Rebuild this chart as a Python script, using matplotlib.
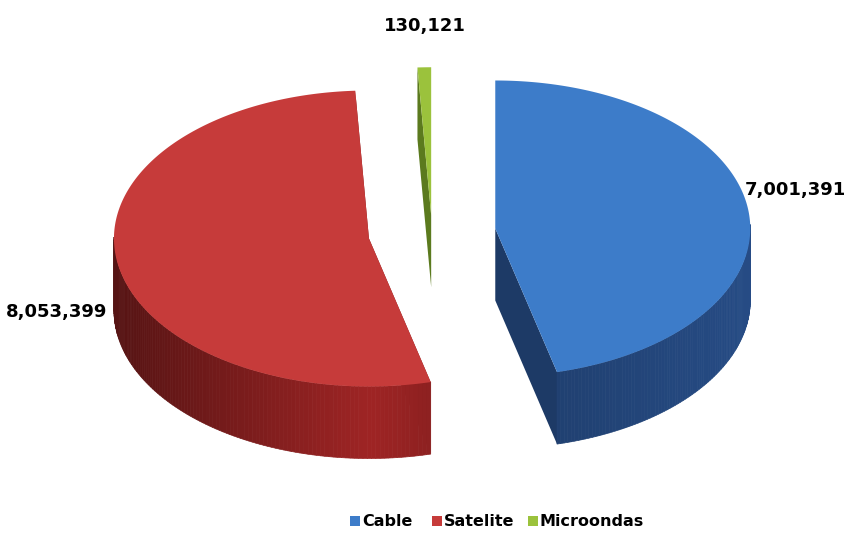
import matplotlib
matplotlib.use("Agg")
import matplotlib.pyplot as plt
from matplotlib.patches import Polygon, Rectangle
import numpy as np

labels = ["Cable", "Satelite", "Microondas"]
values = [7001391, 8053399, 130121]
value_text = ["7,001,391", "8,053,399", "130,121"]

top_col = ["#3d7cc9", "#c63b3a", "#9bc23c"]
side_col = ["#1d3a66", "#7a1c1c", "#5b7a1e"]
explode = [0.25, 0.25, 0.12]

W, H = 850, 534
fig = plt.figure(figsize=(W / 100, H / 100), dpi=100)
ax = fig.add_axes([0, 0, 1, 1])
ax.set_xlim(0, W)
ax.set_ylim(H, 0)
ax.axis("off")

cx, cy, rx, ry, depth = 432, 233, 255, 148, 72


def shade(c, f):
    c = np.array(matplotlib.colors.to_rgb(c))
    return tuple(np.clip(c * f, 0, 1))


total = sum(values)
start = 90.0
for i, v in enumerate(values):
    span = 360.0 * v / total
    a0, a1 = start - span, start
    start = a0
    m = np.radians((a0 + a1) / 2)
    ox = cx + explode[i] * rx * np.cos(m)
    oy = cy - explode[i] * ry * np.sin(m)
    th = np.radians(np.linspace(a0, a1, 200))
    px = ox + rx * np.cos(th)
    py = oy - ry * np.sin(th)
    # radial cut faces
    for k in (0, -1):
        face = [(ox, oy), (px[k], py[k]), (px[k], py[k] + depth), (ox, oy + depth)]
        ax.add_patch(Polygon(face, closed=True, fc=shade(side_col[i], 1.0), ec="none", zorder=2))
    # outer wall, front part, shaded pieces
    for j in range(len(th) - 1):
        if np.sin(th[j]) < 0.02:
            f = 0.8 + 0.5 * (np.cos(th[j]) + 1) / 2
            if i == 1:
                f = 0.7 + 0.6 * (1 - abs(np.cos(th[j])))
            q = [(px[j], py[j]), (px[j + 1], py[j + 1]),
                 (px[j + 1], py[j + 1] + depth), (px[j], py[j] + depth)]
            ax.add_patch(Polygon(q, closed=True, fc=shade(side_col[i], f), ec=shade(side_col[i], f),
                                 lw=0.5, zorder=3))
    top = [(ox, oy)] + list(zip(px, py))
    ax.add_patch(Polygon(top, closed=True, fc=top_col[i], ec="none", zorder=4))

font = ["DejaVu Sans"]
ax.text(745, 190, value_text[0], ha="left", va="center", fontsize=13, fontweight="bold", family=font)
ax.text(6, 312, value_text[1], ha="left", va="center", fontsize=13, fontweight="bold", family=font)
ax.text(425, 26, value_text[2], ha="center", va="center", fontsize=13, fontweight="bold", family=font)

# legend
lx = [350, 432, 528]
for i, name in enumerate(labels):
    ax.add_patch(Rectangle((lx[i], 516), 10, 10, fc=top_col[i], ec="none"))
    ax.text(lx[i] + 12, 522, name, ha="left", va="center", fontsize=11.5, fontweight="bold", family=font)

plt.savefig("out.png", dpi=100)
